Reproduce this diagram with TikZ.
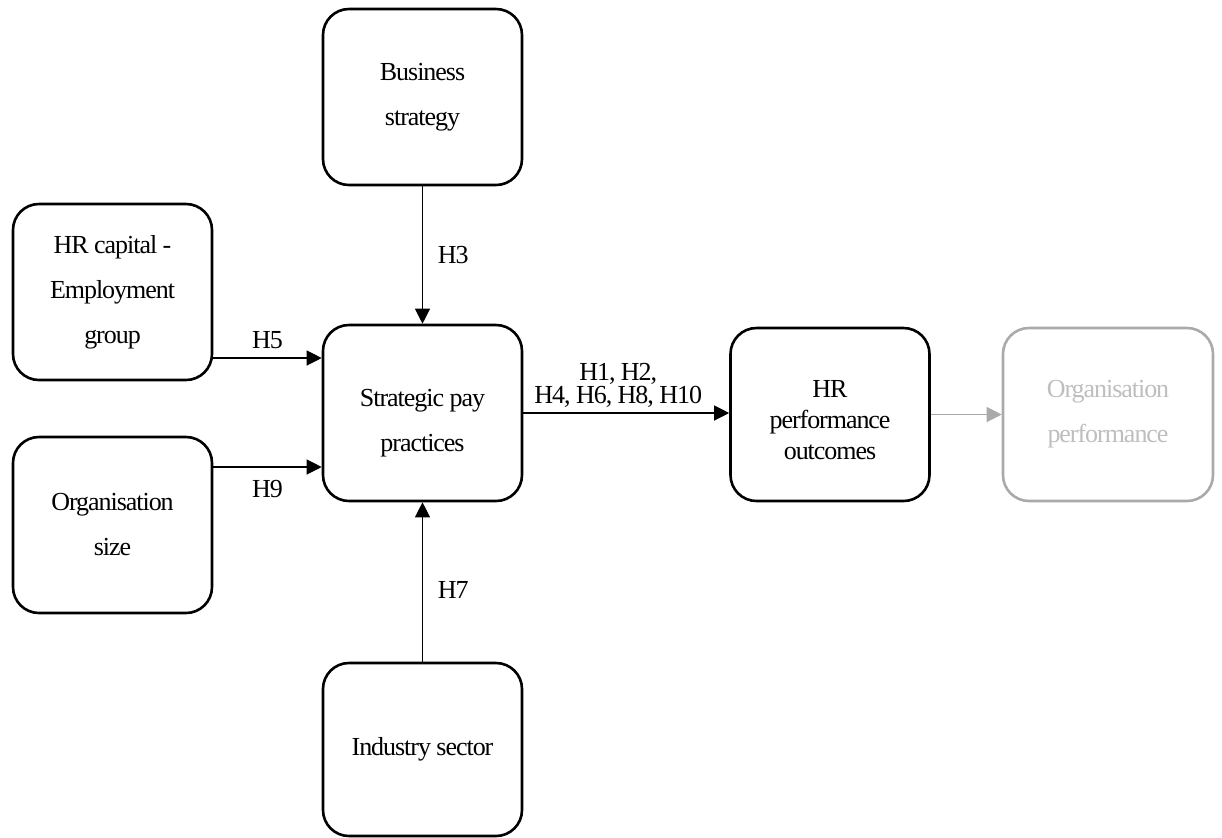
\documentclass[tikz,border=0pt]{standalone}
\usepackage{fontspec}
\setmainfont{Liberation Serif}[LetterSpace=-4]
\usepackage{xcolor}
\usepackage{tikz}
\usetikzlibrary{arrows.meta}
\definecolor{faded}{RGB}{170,170,170}
\definecolor{fadedtext}{RGB}{190,190,190}

\begin{document}
\begin{tikzpicture}[x=0.5pt, y=-0.5pt,
    block/.style={draw, line width=1.3pt, rounded corners=13pt, minimum width=99.5pt, minimum height=88pt,
        inner sep=0pt, align=center, font=\fontsize{13}{22.5}\selectfont},
    conn/.style={-{Triangle[length=7.5pt,width=7.5pt]}, line width=0.6pt},
    hyp/.style={font=\fontsize{13}{11.5}\selectfont, align=center}]
\useasboundingbox (0,0) rectangle (1222,837);
\node[block] (biz) at (422.5,97) {Business\\strategy};
\node[block] (hrcap) at (112.5,292) {HR capital -\\Employment\\group};
\node[block] (orgsize) at (112.5,525) {Organisation\\size};
\node[block] (pay) at (422.5,413) {\rule{0pt}{19pt}Strategic pay\\practices};
\node[block, minimum height=86.5pt, font=\fontsize{13}{15.5}\selectfont] (hrperf) at (830,414.5) {\rule{0pt}{14pt}HR\\performance\\outcomes};
\node[block, draw=faded, text=fadedtext, minimum width=105pt, minimum height=86.5pt] (orgperf) at (1108,414.5) {Organisation\\performance};
\node[block, minimum height=86.5pt] (industry) at (422.5,749.5) {Industry sector};
\draw[conn] (biz) -- node[hyp, right=4pt] {H3} (pay);
\draw[conn] (industry) -- node[hyp, right=4pt, pos=0.45] {H7} (pay);
\draw[conn] ([yshift=-33pt]hrcap.east) -- node[hyp, above=1pt] {H5} ([yshift=-33pt]hrcap.east -| pay.west);
\draw[conn] ([yshift=29pt]orgsize.east) -- node[hyp, below=3pt] {H9} ([yshift=29pt]orgsize.east -| pay.west);
\draw[conn] (pay.east) -- node[hyp, above=-1pt, xshift=-4pt] {H1, H2,\\H4, H6, H8, H10} (pay.east -| hrperf.west);
\draw[conn, draw=faded, fill=faded] (hrperf.east) -- (hrperf.east -| orgperf.west);
\end{tikzpicture}
\end{document}
